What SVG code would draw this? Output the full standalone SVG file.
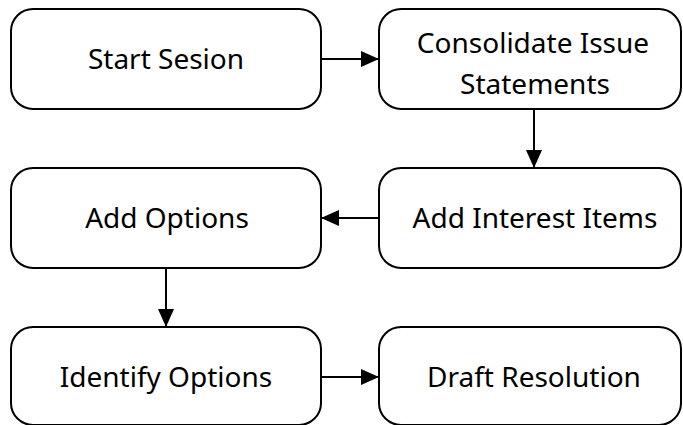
<svg xmlns="http://www.w3.org/2000/svg" width="683" height="425" viewBox="0 0 683 425">
  <style>
    .box { fill: #ffffff; stroke: #000000; stroke-width: 2; }
    .lbl { font-family: "Noto Sans", "Open Sans", "Liberation Sans", sans-serif; font-size: 28px; fill: #000000; text-anchor: middle; }
    .edge { stroke: #000000; stroke-width: 2; fill: none; marker-end: url(#arrow); }
  </style>
  <defs>
    <marker id="arrow" markerUnits="userSpaceOnUse" markerWidth="18" markerHeight="16" viewBox="0 0 18 16" refX="17" refY="8" orient="auto">
      <path d="M0,0 L18,8 L0,16 Z" fill="#000000"/>
    </marker>
  </defs>
  <rect width="683" height="425" fill="#ffffff"/>

  <g id="start-session">
    <rect class="box" x="11" y="9" width="310" height="100" rx="22" ry="22"/>
    <text class="lbl" x="166" y="69">Start Sesion</text>
  </g>
  <g id="consolidate-issue-statements">
    <rect class="box" x="379" y="9" width="302" height="100" rx="22" ry="22"/>
    <text class="lbl" x="533" y="53">Consolidate Issue</text>
    <text class="lbl" x="535" y="94">Statements</text>
  </g>
  <g id="add-options">
    <rect class="box" x="11" y="168" width="310" height="100" rx="22" ry="22"/>
    <text class="lbl" x="167" y="228">Add Options</text>
  </g>
  <g id="add-interest-items">
    <rect class="box" x="379" y="168" width="302" height="100" rx="22" ry="22"/>
    <text class="lbl" x="535" y="228">Add Interest Items</text>
  </g>
  <g id="identify-options">
    <rect class="box" x="11" y="327" width="310" height="98" rx="22" ry="22"/>
    <text class="lbl" x="166" y="387">Identify Options</text>
  </g>
  <g id="draft-resolution">
    <rect class="box" x="379" y="327" width="302" height="98" rx="22" ry="22"/>
    <text class="lbl" x="534" y="387">Draft Resolution</text>
  </g>

  <g id="connectors">
    <line class="edge" x1="321" y1="59" x2="378" y2="59"/>
    <line class="edge" x1="534" y1="109" x2="534" y2="167"/>
    <line class="edge" x1="379" y1="218" x2="322" y2="218"/>
    <line class="edge" x1="166" y1="268" x2="166" y2="326"/>
    <line class="edge" x1="321" y1="377" x2="378" y2="377"/>
  </g>
</svg>
